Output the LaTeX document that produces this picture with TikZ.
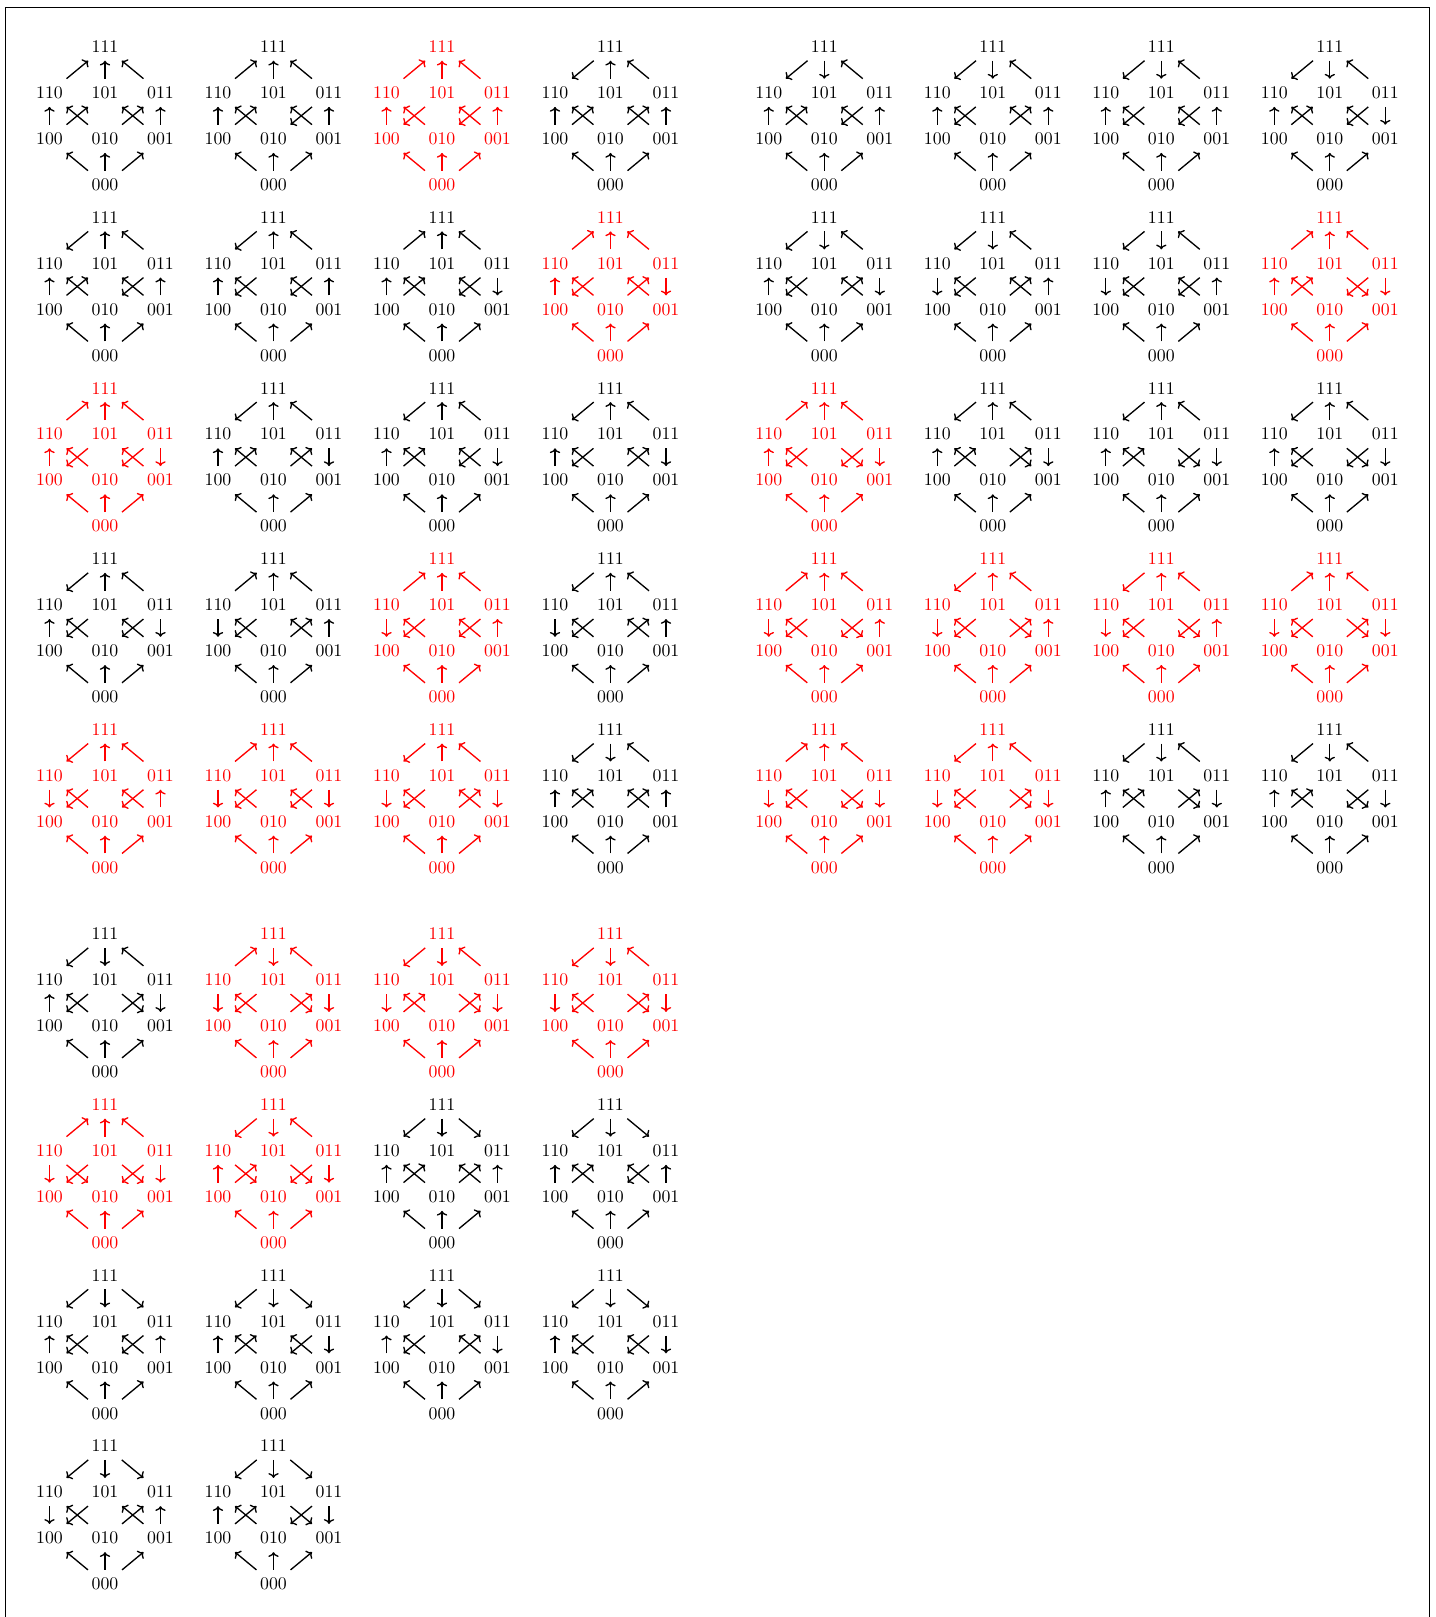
\documentclass[tikz,border=0pt]{standalone}
\usetikzlibrary{arrows.meta}
\tikzset{
  lbl/.style={inner xsep=2pt, inner ysep=4.3pt, font=\fontsize{10}{12}\selectfont},
  arr/.style={-{Computer Modern Rightarrow[length=2.7pt,width=5.8pt]}, line width=0.75pt},
}
\def\cid{}
\newcommand\E[3]{\if#3u\draw[arr] (\cid-#1) -- (\cid-#2);\else\draw[arr] (\cid-#2) -- (\cid-#1);\fi}
\newcommand\dirsA[9]{\E{110}{111}{#1}\E{101}{111}{#2}\E{011}{111}{#3}\E{100}{110}{#4}\E{010}{110}{#5}\E{100}{101}{#6}\E{001}{101}{#7}\E{010}{011}{#8}\E{001}{011}{#9}\dirsB}
\newcommand\dirsB[3]{\E{000}{100}{#1}\E{000}{010}{#2}\E{000}{001}{#3}}
\newcommand\cube[5]{%
  \begin{scope}[shift={(#2,#3)}, color=#4]
    \def\cid{#1}%
    \node[lbl] (#1-111) at (0,0) {111};
    \node[lbl] (#1-110) at (-55.5,46) {110};
    \node[lbl] (#1-101) at (0,46) {101};
    \node[lbl] (#1-011) at (55.5,46) {011};
    \node[lbl] (#1-100) at (-55.5,92) {100};
    \node[lbl] (#1-010) at (0,92) {010};
    \node[lbl] (#1-001) at (55.5,92) {001};
    \node[lbl] (#1-000) at (0,138) {000};
    \dirsA#5
  \end{scope}}
\begin{document}
\begin{tikzpicture}[x=0.5625pt, y=-0.5625pt]
\useasboundingbox (0,0) rectangle (1435,1617);
\draw[line width=0.5pt] (5,7) rectangle (1429,1640);
% columns: 105, 273.5, 442, 610.5 | 824.3, 992.8, 1161.3, 1329.8
% row 1
\cube{d1}{105}{46.8}{black}{uuuuuuuuuuuu}
\cube{d2}{273.5}{46.8}{black}{uuuuuuuduuuu}
\cube{d3}{442}{46.8}{red}{uuuuududuuuu}
\cube{d4}{610.5}{46.8}{black}{duuuuuuuuuuu}
\cube{d5}{824.3}{46.8}{black}{dduuuuuduuuu}
\cube{d6}{992.8}{46.8}{black}{dduuuduuuuuu}
\cube{d7}{1161.3}{46.8}{black}{dduuududuuuu}
\cube{d8}{1329.8}{46.8}{black}{dduuuuudduuu}
% row 2
\cube{d9}{105}{217.5}{black}{duuuuuuduuuu}
\cube{d10}{273.5}{217.5}{black}{duuuududuuuu}
\cube{d11}{442}{217.5}{black}{uuuuuuudduuu}
\cube{d12}{610.5}{217.5}{red}{uuuuuduuduuu}
\cube{d13}{824.3}{217.5}{black}{dduuuduuduuu}
\cube{d14}{992.8}{217.5}{black}{ddududuuuuuu}
\cube{d15}{1161.3}{217.5}{black}{ddudududuuuu}
\cube{d16}{1329.8}{217.5}{red}{uuuuuuddduuu}
% row 3
\cube{d17}{105}{388.2}{red}{uuuuududduuu}
\cube{d18}{273.5}{388.2}{black}{duuuuuuuduuu}
\cube{d19}{442}{388.2}{black}{duuuuuudduuu}
\cube{d20}{610.5}{388.2}{black}{duuuuduuduuu}
\cube{d21}{824.3}{388.2}{red}{uuuuudddduuu}
\cube{d22}{992.8}{388.2}{black}{duuuuududuuu}
\cube{d23}{1161.3}{388.2}{black}{duuuuuddduuu}
\cube{d24}{1329.8}{388.2}{black}{duuuudddduuu}
% row 4
\cube{d25}{105}{558.9}{black}{duuuududduuu}
\cube{d26}{273.5}{558.9}{black}{uuududuuuuuu}
\cube{d27}{442}{558.9}{red}{uuudududuuuu}
\cube{d28}{610.5}{558.9}{black}{duududuuuuuu}
\cube{d29}{824.3}{558.9}{red}{uuududdduuuu}
\cube{d30}{992.8}{558.9}{red}{duududduuuuu}
\cube{d31}{1161.3}{558.9}{red}{duududdduuuu}
\cube{d32}{1329.8}{558.9}{red}{uuududduduuu}
% row 5
\cube{d33}{105}{729.6}{red}{duudududuuuu}
\cube{d34}{273.5}{729.6}{red}{uuudududduuu}
\cube{d35}{442}{729.6}{red}{duududuuduuu}
\cube{d36}{610.5}{729.6}{black}{dduuuuuuuuuu}
\cube{d37}{824.3}{729.6}{red}{uuududddduuu}
\cube{d38}{992.8}{729.6}{red}{duududduduuu}
\cube{d39}{1161.3}{729.6}{black}{dduuuududuuu}
\cube{d40}{1329.8}{729.6}{black}{dduuuuddduuu}
% block 2, row 6
\cube{d41}{105}{934}{black}{dduuudduduuu}
\cube{d42}{273.5}{934}{red}{udududduduuu}
\cube{d43}{442}{934}{red}{dduduududuuu}
\cube{d44}{610.5}{934}{red}{ddududduduuu}
% row 7
\cube{d45}{105}{1104.7}{red}{uuudddddduuu}
\cube{d46}{273.5}{1104.7}{red}{dduududdduuu}
\cube{d47}{442}{1104.7}{black}{ddduuuuuuuuu}
\cube{d48}{610.5}{1104.7}{black}{ddduuuuduuuu}
% row 8
\cube{d49}{105}{1275.4}{black}{ddduududuuuu}
\cube{d50}{273.5}{1275.4}{black}{ddduuuudduuu}
\cube{d51}{442}{1275.4}{black}{ddduuduuduuu}
\cube{d52}{610.5}{1275.4}{black}{ddduududduuu}
% row 9
\cube{d53}{105}{1446}{black}{dddduduuuuuu}
\cube{d54}{273.5}{1446}{black}{ddduuuddduuu}
\end{tikzpicture}
\end{document}
